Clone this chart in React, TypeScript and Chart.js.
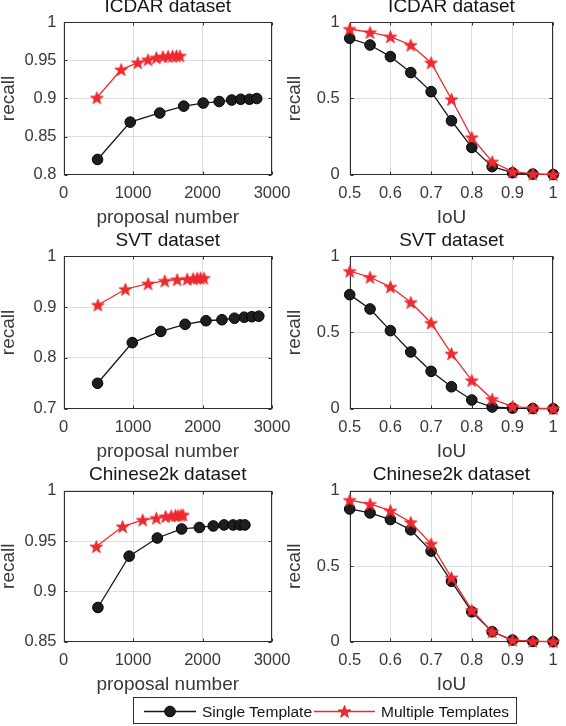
import React, { useEffect, useRef } from "react";
import { Chart, registerables } from "chart.js";

Chart.register(...registerables);

// ---------------- data ----------------
const seriesNames = ["Single Template", "Multiple Templates"];
const panelTitles = ["ICDAR dataset", "SVT dataset", "Chinese2k dataset"];
const proposalAxisLabel = "proposal number";
const iouAxisLabel = "IoU";
const recallAxisLabel = "recall";

const iouLevels = [0.5, 0.55, 0.6, 0.65, 0.7, 0.75, 0.8, 0.85, 0.9, 0.95, 1];

const icdarSingleProposals = [490, 960, 1385, 1730, 2010, 2240, 2420, 2550, 2675, 2780];
const icdarSingleRecall = [0.82, 0.869, 0.881, 0.89, 0.894, 0.896, 0.898, 0.899, 0.899, 0.9];
const icdarMultiProposals = [480, 830, 1070, 1215, 1335, 1430, 1505, 1570, 1625, 1675];
const icdarMultiRecall = [0.901, 0.938, 0.947, 0.951, 0.9535, 0.955, 0.9555, 0.9558, 0.956, 0.956];

const svtSingleProposals = [490, 990, 1400, 1750, 2050, 2280, 2460, 2600, 2710, 2810];
const svtSingleRecall = [0.75, 0.83, 0.852, 0.866, 0.873, 0.875, 0.878, 0.88, 0.881, 0.882];
const svtMultiProposals = [495, 890, 1217, 1457, 1635, 1779, 1866, 1924, 1972, 2020];
const svtMultiRecall = [0.904, 0.935, 0.946, 0.9515, 0.954, 0.955, 0.956, 0.957, 0.957, 0.957];

const c2kSingleProposals = [495, 945, 1350, 1700, 1955, 2155, 2310, 2440, 2540, 2610];
const c2kSingleRecall = [0.884, 0.935, 0.953, 0.962, 0.9635, 0.965, 0.966, 0.966, 0.966, 0.966];
const c2kMultiProposals = [472, 850, 1140, 1335, 1470, 1550, 1610, 1650, 1690, 1720];
const c2kMultiRecall = [0.9445, 0.9644, 0.971, 0.9728, 0.9744, 0.975, 0.9754, 0.9755, 0.9758, 0.976];

const icdarSingleIou = [0.895, 0.851, 0.775, 0.67, 0.545, 0.354, 0.179, 0.053, 0.013, 0.004, 0.001];
const icdarMultiIou = [0.956, 0.934, 0.906, 0.851, 0.735, 0.495, 0.245, 0.085, 0.02, 0.005, 0.001];
const svtSingleIou = [0.748, 0.654, 0.512, 0.372, 0.245, 0.144, 0.057, 0.011, 0.004, 0.001, 0];
const svtMultiIou = [0.902, 0.862, 0.799, 0.698, 0.562, 0.361, 0.186, 0.063, 0.015, 0.004, 0.001];
const c2kSingleIou = [0.879, 0.853, 0.809, 0.741, 0.6, 0.4, 0.198, 0.066, 0.011, 0.002, 0];
const c2kMultiIou = [0.938, 0.912, 0.868, 0.791, 0.648, 0.424, 0.209, 0.066, 0.011, 0.004, 0.001];

const proposalTicks = [0, 1000, 2000, 3000];
const iouTicks = [0.5, 0.6, 0.7, 0.8, 0.9, 1];
const iouRecallTicks = [0, 0.5, 1];
const icdarRecallTicks = [0.8, 0.85, 0.9, 0.95, 1];
const svtRecallTicks = [0.7, 0.8, 0.9, 1];
const c2kRecallTicks = [0.85, 0.9, 0.95, 1];

// ---------------- styles ----------------
const FONT = '"Liberation Sans", Arial, Helvetica, sans-serif';
const BLACK_LINE = "#161616";
const BLACK_MARK = "#1e1e1e";
const RED = "#ec2a30";
const AXIS = "#2e2e2e";
const TEXT = "#383838";
const TITLE = "#141414";
const GRID = "#dedede";
const TICK_SIZE = 16.5;
const LABEL_SIZE = 19;

Chart.defaults.font.family = FONT;

function makeStar(color: string, R: number): HTMLCanvasElement {
  const size = Math.ceil(R * 2 + 3);
  const c = document.createElement("canvas");
  c.width = size;
  c.height = size;
  const ctx = c.getContext("2d")!;
  const cx = size / 2;
  const cy = size / 2 + R * 0.1;
  const r = R * 0.4;
  ctx.beginPath();
  for (let i = 0; i < 10; i++) {
    const rad = i % 2 === 0 ? R : r;
    const a = -Math.PI / 2 + (i * Math.PI) / 5;
    ctx.lineTo(cx + rad * Math.cos(a), cy + rad * Math.sin(a));
  }
  ctx.closePath();
  ctx.fillStyle = color;
  ctx.fill();
  ctx.strokeStyle = color;
  ctx.lineWidth = 1;
  ctx.stroke();
  return c;
}

const axesBoxPlugin = {
  id: "axesBox",
  beforeDatasetsDraw(chart: any) {
    const { ctx, chartArea } = chart;
    const { left, right, top, bottom } = chartArea;
    ctx.save();
    ctx.strokeStyle = AXIS;
    ctx.lineWidth = 1;
    const L = Math.round(left) + 0.5;
    const R = Math.round(right) - 0.5;
    const T = Math.round(top) + 0.5;
    const B = Math.round(bottom) - 0.5;
    ctx.strokeRect(L, T, R - L, B - T);
    const len = 3;
    ctx.beginPath();
    const xs = chart.scales.x;
    xs.ticks.forEach((t: any) => {
      const p = Math.round(xs.getPixelForValue(t.value)) + 0.5;
      ctx.moveTo(p, B);
      ctx.lineTo(p, B - len);
      ctx.moveTo(p, T);
      ctx.lineTo(p, T + len);
    });
    const ys = chart.scales.y;
    ys.ticks.forEach((t: any) => {
      const p = Math.round(ys.getPixelForValue(t.value)) + 0.5;
      ctx.moveTo(L, p);
      ctx.lineTo(L + len, p);
      ctx.moveTo(R, p);
      ctx.lineTo(R - len, p);
    });
    ctx.stroke();
    ctx.restore();
  },
};

type PanelCfg = {
  title: string;
  xLabel: string;
  xTicks: number[];
  yTicks: number[];
  singleX: number[];
  singleY: number[];
  multiX: number[];
  multiY: number[];
  plotLeft: number;
  plotRight: number;
  plotTop: number;
  plotBottom: number;
  rightSpace: number;
  yTickPad: number;
};

function Panel({ cfg }: { cfg: PanelCfg }) {
  const ref = useRef<HTMLCanvasElement>(null);
  const cl = Math.floor(cfg.plotLeft - 70);
  const yW = cfg.plotLeft - cl;
  const cw = Math.ceil(cfg.plotRight - cl + cfg.rightSpace);
  const rightPad = cw - (cfg.plotRight - cl);
  const ct = Math.floor(cfg.plotTop - 27.3);
  const titleTop = cfg.plotTop - ct - 27.3;
  const ch = Math.ceil(cfg.plotBottom + 60 - ct);
  const xH = ct + ch - cfg.plotBottom;

  useEffect(() => {
    const star = makeStar(RED, 6.6);
    const chart = new Chart(ref.current!, {
      type: "line",
      data: {
        datasets: [
          {
            label: seriesNames[0],
            data: cfg.singleX.map((x, i) => ({ x, y: cfg.singleY[i] })),
            borderColor: BLACK_LINE,
            backgroundColor: BLACK_MARK,
            borderWidth: 1.3,
            pointStyle: "circle",
            pointRadius: 5.3,
            pointBorderColor: "#000",
            pointBackgroundColor: BLACK_MARK,
            pointBorderWidth: 1,
            tension: 0,
            clip: false as any,
            order: 1,
          },
          {
            label: seriesNames[1],
            data: cfg.multiX.map((x, i) => ({ x, y: cfg.multiY[i] })),
            borderColor: RED,
            backgroundColor: RED,
            borderWidth: 1.3,
            pointStyle: star as any,
            pointRadius: 6,
            tension: 0,
            clip: false as any,
            order: 0,
          },
        ],
      },
      options: {
        responsive: false,
        animation: false,
        events: [],
        layout: { padding: { left: 0, right: rightPad, top: 0, bottom: 0 } },
        plugins: {
          legend: { display: false },
          tooltip: { enabled: false },
          title: {
            display: true,
            text: cfg.title,
            fullSize: false,
            color: TITLE,
            font: { size: LABEL_SIZE, weight: "normal" as any, family: FONT },
            padding: { top: titleTop, bottom: 4.5 },
          },
        },
        scales: {
          x: {
            type: "linear",
            min: cfg.xTicks[0],
            max: cfg.xTicks[cfg.xTicks.length - 1],
            afterBuildTicks: (s: any) => {
              s.ticks = cfg.xTicks.map((v) => ({ value: v }));
            },
            afterFit: (s: any) => {
              s.height = xH;
            },
            ticks: {
              callback: (v: any) => String(v),
              color: TEXT,
              font: { size: TICK_SIZE, family: FONT },
              padding: 9.2,
              autoSkip: false,
              maxRotation: 0,
            },
            grid: { color: GRID, drawTicks: false, lineWidth: 1 },
            border: { display: false },
            title: {
              display: true,
              text: cfg.xLabel,
              color: TEXT,
              font: { size: LABEL_SIZE, family: FONT },
              padding: { top: 0, bottom: xH - 54.1 },
            },
          },
          y: {
            type: "linear",
            min: cfg.yTicks[0],
            max: cfg.yTicks[cfg.yTicks.length - 1],
            afterBuildTicks: (s: any) => {
              s.ticks = cfg.yTicks.map((v) => ({ value: v }));
            },
            afterFit: (s: any) => {
              s.width = yW;
            },
            ticks: {
              callback: (v: any) => String(v),
              color: TEXT,
              font: { size: TICK_SIZE, family: FONT },
              padding: cfg.yTickPad,
              autoSkip: false,
            },
            grid: { color: GRID, drawTicks: false, lineWidth: 1 },
            border: { display: false },
            title: {
              display: true,
              text: recallAxisLabel,
              color: TEXT,
              font: { size: LABEL_SIZE, family: FONT },
              padding: { top: yW - 54.5 - LABEL_SIZE * 0.6, bottom: 0 },
            },
          },
        },
      },
      plugins: [axesBoxPlugin],
    } as any);
    return () => chart.destroy();
  }, []);

  return (
    <canvas
      ref={ref}
      width={cw}
      height={ch}
      style={{ position: "absolute", left: cl, top: ct, width: cw, height: ch }}
    />
  );
}

const LEFT = { plotLeft: 63.5, plotRight: 272, rightSpace: 28, yTickPad: 7 };
const RIGHT = { plotLeft: 349.7, plotRight: 558.3, rightSpace: 8, yTickPad: 10 };
const ROWS = [
  { plotTop: 22.3, plotBottom: 174.7 },
  { plotTop: 256.2, plotBottom: 408.7 },
  { plotTop: 490.7, plotBottom: 641.7 },
];

const panels: PanelCfg[] = [
  {
    title: panelTitles[0], xLabel: proposalAxisLabel, xTicks: proposalTicks, yTicks: icdarRecallTicks,
    singleX: icdarSingleProposals, singleY: icdarSingleRecall, multiX: icdarMultiProposals, multiY: icdarMultiRecall,
    ...LEFT, ...ROWS[0],
  },
  {
    title: panelTitles[0], xLabel: iouAxisLabel, xTicks: iouTicks, yTicks: iouRecallTicks,
    singleX: iouLevels, singleY: icdarSingleIou, multiX: iouLevels, multiY: icdarMultiIou,
    ...RIGHT, ...ROWS[0],
  },
  {
    title: panelTitles[1], xLabel: proposalAxisLabel, xTicks: proposalTicks, yTicks: svtRecallTicks,
    singleX: svtSingleProposals, singleY: svtSingleRecall, multiX: svtMultiProposals, multiY: svtMultiRecall,
    ...LEFT, ...ROWS[1],
  },
  {
    title: panelTitles[1], xLabel: iouAxisLabel, xTicks: iouTicks, yTicks: iouRecallTicks,
    singleX: iouLevels, singleY: svtSingleIou, multiX: iouLevels, multiY: svtMultiIou,
    ...RIGHT, ...ROWS[1],
  },
  {
    title: panelTitles[2], xLabel: proposalAxisLabel, xTicks: proposalTicks, yTicks: c2kRecallTicks,
    singleX: c2kSingleProposals, singleY: c2kSingleRecall, multiX: c2kMultiProposals, multiY: c2kMultiRecall,
    ...LEFT, ...ROWS[2],
  },
  {
    title: panelTitles[2], xLabel: iouAxisLabel, xTicks: iouTicks, yTicks: iouRecallTicks,
    singleX: iouLevels, singleY: c2kSingleIou, multiX: iouLevels, multiY: c2kMultiIou,
    ...RIGHT, ...ROWS[2],
  },
];

function starPoints(cx: number, cy: number, R: number): string {
  const r = R * 0.4;
  const pts: string[] = [];
  for (let i = 0; i < 10; i++) {
    const rad = i % 2 === 0 ? R : r;
    const a = -Math.PI / 2 + (i * Math.PI) / 5;
    pts.push(`${(cx + rad * Math.cos(a)).toFixed(2)},${(cy + rad * Math.sin(a)).toFixed(2)}`);
  }
  return pts.join(" ");
}

function Legend() {
  const textStyle: React.CSSProperties = {
    position: "absolute",
    top: 0,
    height: 27,
    lineHeight: "27px",
    fontSize: 15.5,
    fontFamily: FONT,
    color: TITLE,
    whiteSpace: "nowrap",
  };
  return (
    <div
      style={{
        position: "absolute",
        left: 133,
        top: 697,
        width: 384,
        height: 27,
        border: `1px solid ${AXIS}`,
        background: "#fff",
        boxSizing: "border-box",
      }}
    >
      <svg style={{ position: "absolute", left: 10, top: 0 }} width={52} height={27}>
        <line x1={0} y1={13.5} x2={52} y2={13.5} stroke={BLACK_LINE} strokeWidth={1.3} />
        <circle cx={26} cy={13.5} r={5.3} fill={BLACK_MARK} stroke="#000" strokeWidth={1} />
      </svg>
      <div style={{ ...textStyle, left: 68 }}>{seriesNames[0]}</div>
      <svg style={{ position: "absolute", left: 180, top: 0 }} width={61} height={27}>
        <line x1={0} y1={13.5} x2={61} y2={13.5} stroke={RED} strokeWidth={1.3} />
        <polygon points={starPoints(30.5, 14, 6.6)} fill={RED} stroke={RED} strokeWidth={1} />
      </svg>
      <div style={{ ...textStyle, left: 247 }}>{seriesNames[1]}</div>
    </div>
  );
}

export default function App() {
  return (
    <div
      style={{
        position: "absolute",
        left: 0,
        top: 0,
        width: 566,
        height: 726,
        overflow: "hidden",
        background: "#fff",
      }}
    >
      {panels.map((p, i) => (
        <Panel key={i} cfg={p} />
      ))}
      <Legend />
    </div>
  );
}
